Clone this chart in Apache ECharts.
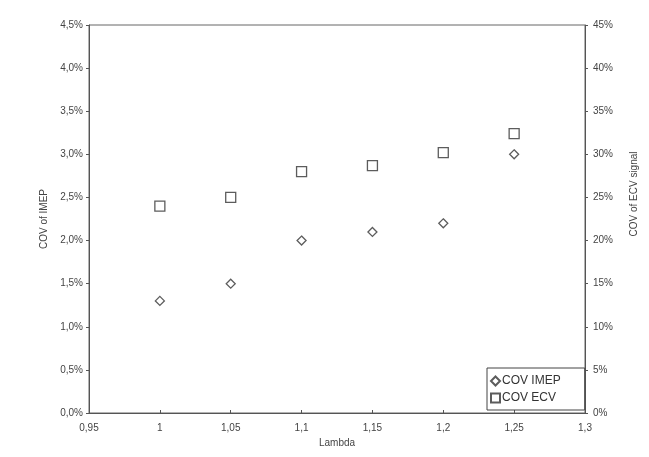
<!DOCTYPE html>
<html><head><meta charset="utf-8">
<script src="https://cdn.jsdelivr.net/npm/echarts@6/dist/echarts.min.js"></script>
<style>html,body{margin:0;padding:0;background:#fff}#c{width:649px;height:457px}</style>
</head><body><div id="c"></div>
<script>
const lambdas = [1.00, 1.05, 1.10, 1.15, 1.20, 1.25];
const covImep = [1.3, 1.5, 2.0, 2.1, 2.2, 3.0];      // % (left axis)
const covEcv = [24.0, 25.0, 28.0, 28.7, 30.2, 32.4];  // % (right axis)
const xTickLabels = {"0.95":"0,95","1":"1","1.05":"1,05","1.1":"1,1","1.15":"1,15","1.2":"1,2","1.25":"1,25","1.3":"1,3"};
const leftTickLabels = ["0,0%","0,5%","1,0%","1,5%","2,0%","2,5%","3,0%","3,5%","4,0%","4,5%"];
const rightTickLabels = ["0%","5%","10%","15%","20%","25%","30%","35%","40%","45%"];

const font = 'Liberation Sans, Arial, sans-serif';
const txt = '#444';
const chart = echarts.init(document.getElementById('c'));
chart.setOption({
  animation: false,
  backgroundColor: '#fff',
  grid: {left: 89, right: 64, top: 25, bottom: 44, show: true, borderColor: '#666', borderWidth: 1},
  legend: {
    left: 487, top: 368, orient: 'vertical', itemGap: 5, itemWidth: 9, itemHeight: 9,
    padding: [7, 24, 6, 3], borderColor: '#444', borderWidth: 1, backgroundColor: '#fff',
    textStyle: {fontFamily: font, fontSize: 12, color: '#333', padding: [0,0,0,-3]},
    data: ['COV IMEP', 'COV ECV']
  },
  xAxis: {
    type: 'value', min: 0.95, max: 1.3, interval: 0.05,
    name: 'Lambda', nameLocation: 'middle', nameGap: 25,
    nameTextStyle: {fontFamily: font, fontSize: 10, color: txt},
    axisLine: {show: true, lineStyle: {color: '#555'}},
    axisTick: {show: true, inside: true, length: 3, lineStyle: {color: '#555'}},
    splitLine: {show: false},
    axisLabel: {fontFamily: font, fontSize: 10, color: txt, margin: 10,
      formatter: v => xTickLabels[String(Math.round(v*100)/100)] || ''}
  },
  yAxis: [{
    type: 'value', min: 0, max: 4.5, interval: 0.5, position: 'left',
    name: 'COV of IMEP', nameLocation: 'middle', nameGap: 33, nameRotate: 90,
    nameTextStyle: {fontFamily: font, fontSize: 10, color: txt},
    axisLine: {show: true, lineStyle: {color: '#555'}},
    axisTick: {show: true, length: 3, lineStyle: {color: '#555'}},
    splitLine: {show: false},
    axisLabel: {fontFamily: font, fontSize: 10, color: txt, margin: 6,
      formatter: v => leftTickLabels[Math.round(v*2)]}
  }, {
    type: 'value', min: 0, max: 45, interval: 5, position: 'right',
    name: 'COV of ECV signal', nameLocation: 'middle', nameGap: 44, nameRotate: 90,
    nameTextStyle: {fontFamily: font, fontSize: 10, color: txt, padding: [0, 0, 0, 50]},
    axisLine: {show: true, lineStyle: {color: '#555'}},
    axisTick: {show: true, length: 3, lineStyle: {color: '#555'}},
    splitLine: {show: false},
    axisLabel: {fontFamily: font, fontSize: 10, color: txt, margin: 8,
      formatter: v => rightTickLabels[Math.round(v/5)]}
  }],
  series: [{
    name: 'COV IMEP', type: 'scatter', yAxisIndex: 0, symbol: 'diamond', symbolSize: 9,
    itemStyle: {color: '#fff', borderColor: '#333', borderWidth: 1.3},
    data: lambdas.map((x, i) => [x, covImep[i]])
  }, {
    name: 'COV ECV', type: 'scatter', yAxisIndex: 1, symbol: 'rect', symbolSize: 10,
    itemStyle: {color: '#fff', borderColor: '#333', borderWidth: 1.3},
    data: lambdas.map((x, i) => [x, covEcv[i]])
  }]
});
</script></body></html>
